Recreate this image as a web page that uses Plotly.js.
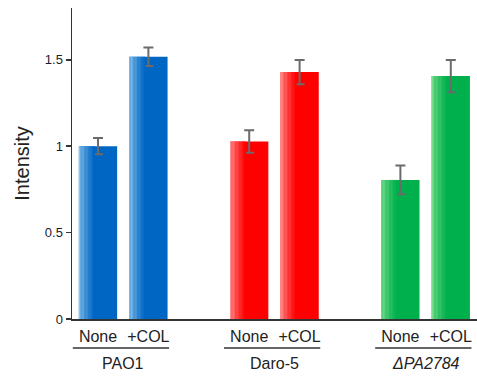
<!DOCTYPE html>
<html>
<head>
<meta charset="utf-8">
<script src="https://cdn.plot.ly/plotly-3.0.1.min.js"></script>
<style>html,body{margin:0;padding:0;background:#fff;}#chart{width:477px;height:376px;}</style>
</head>
<body>
<div id="chart"></div>
<script>
// ---- data ----
const groupLabels = ['PAO1', 'Daro-5', '<i>ΔPA2784</i>'];
const conditionLabels = ['None', '+COL'];
const pao1Means = [1.00, 1.518];
const pao1Errors = [0.047, 0.053];
const daro5Means = [1.027, 1.429];
const daro5Errors = [0.065, 0.070];
const pa2784Means = [0.805, 1.406];
const pa2784Errors = [0.083, 0.093];
const yTickValues = [0, 0.5, 1, 1.5];
const yTickLabels = ['0', '0.5', '1', '1.5'];

// ---- styling ----
const groupSeries = [
  {means: pao1Means, errors: pao1Errors, dark: [0, 102, 196], light: [140, 196, 236]},
  {means: daro5Means, errors: daro5Errors, dark: [255, 0, 0], light: [255, 150, 150]},
  {means: pa2784Means, errors: pa2784Errors, dark: [0, 176, 76], light: [120, 220, 140]}
];
const barWidth = 0.76;
const groupStride = 3;
const nStrips = 12;
const stripWidth = barWidth * 0.42 / nStrips;

function rgb(c){ return 'rgb(' + c.map(v => Math.round(v)).join(',') + ')'; }
function mix(a, b, t){ return a.map((v, i) => v + (b[i] - v) * t); }

const traces = [];
const tickVals = [];
const tickText = [];
const shapes = [];
const annotations = [];

groupSeries.forEach((g, gi) => {
  const xs = g.means.map((_, ci) => gi * groupStride + ci);
  xs.forEach((x, ci) => { tickVals.push(x); tickText.push(conditionLabels[ci]); });
  traces.push({
    type: 'bar', x: xs, y: g.means, width: barWidth,
    marker: {color: rgb(g.dark), line: {width: 0}},
    error_y: {type: 'data', array: g.errors, visible: true, color: '#6b6b6b', thickness: 2, width: 5},
    hoverinfo: 'skip', showlegend: false
  });
  for (let k = 0; k < nStrips; k++) {
    const t = Math.pow(k / (nStrips - 1), 0.8);
    traces.push({
      type: 'bar', x: xs, y: g.means, width: stripWidth * 1.05,
      offset: -barWidth / 2 + k * stripWidth,
      marker: {color: rgb(mix(g.light, g.dark, t)), line: {width: 0}},
      hoverinfo: 'skip', showlegend: false
    });
  }
  shapes.push({
    type: 'line', xref: 'x', yref: 'paper', ysizemode: 'pixel', yanchor: 0,
    x0: xs[0] - 0.5, x1: xs[xs.length - 1] + 0.41, y0: -29, y1: -29,
    line: {color: '#333', width: 1.5}
  });
  annotations.push({
    xref: 'x', yref: 'paper', x: (xs[0] + xs[xs.length - 1]) / 2, y: 0,
    yanchor: 'middle', yshift: -44, showarrow: false, text: groupLabels[gi],
    font: {family: 'Liberation Sans, Arial, sans-serif', size: 16, color: '#222'}
  });
});

const layout = {
  width: 477, height: 376,
  margin: {l: 72, r: 0, t: 8, b: 57},
  paper_bgcolor: '#fff', plot_bgcolor: '#fff',
  barmode: 'overlay', showlegend: false, hovermode: false,
  font: {family: 'Liberation Sans, Arial, sans-serif', color: '#222'},
  xaxis: {
    range: [-0.516, 7.52], showgrid: false, zeroline: false,
    showline: true, linecolor: '#333', linewidth: 1.5,
    tickmode: 'array', tickvals: tickVals, ticktext: tickText,
    ticks: '', ticklabelstandoff: 2, tickfont: {size: 16, color: '#222'}, fixedrange: true
  },
  yaxis: {
    range: [0, 1.8], showgrid: false, zeroline: false,
    showline: true, linecolor: '#333', linewidth: 1.5,
    tickmode: 'array', tickvals: yTickValues, ticktext: yTickLabels,
    ticks: 'outside', ticklen: 5, tickwidth: 1.5, tickcolor: '#333',
    tickfont: {size: 13, color: '#1a1a2a'},
    title: {text: 'Intensity', font: {size: 20, color: '#222'}, standoff: 10},
    fixedrange: true
  },
  shapes: shapes,
  annotations: annotations
};

Plotly.newPlot('chart', traces, layout, {displayModeBar: false, staticPlot: true});
</script>
</body>
</html>
